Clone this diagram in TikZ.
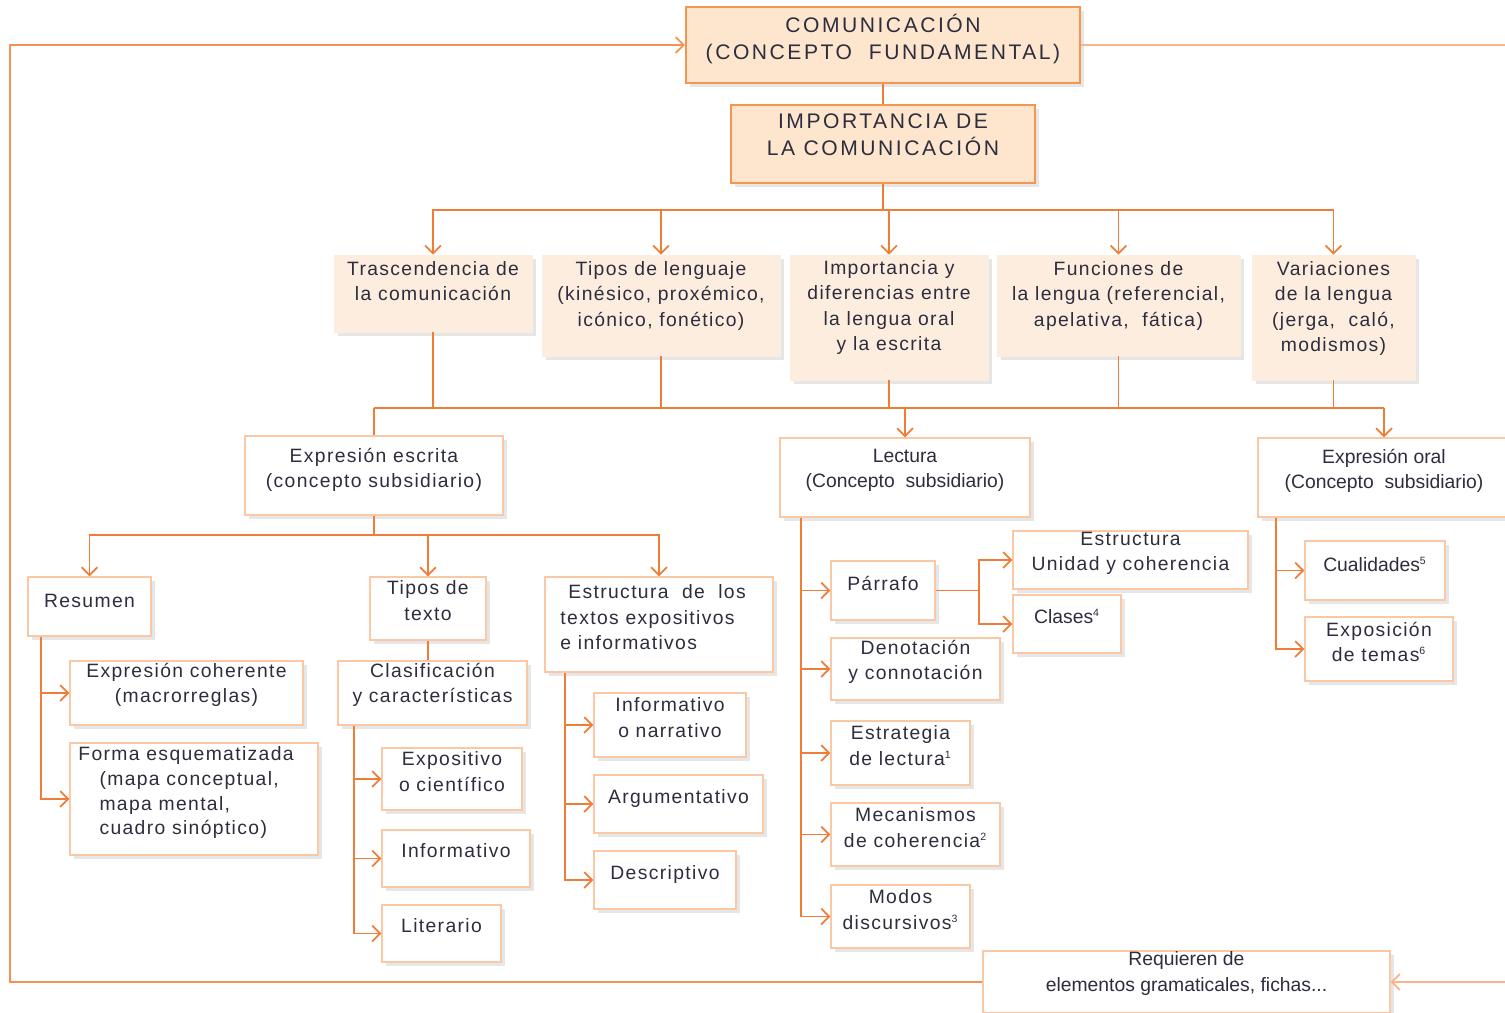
\documentclass[tikz,border=0pt]{standalone}
\usepackage{fontspec}
\setmainfont{Liberation Sans}[LetterSpace=7]
\newfontfamily\titlef{Liberation Sans}[LetterSpace=12]
\newfontfamily\plainf{Liberation Sans}
\usetikzlibrary{arrows.meta,shadows,fit}
\definecolor{linecol}{RGB}{240,125,55}
\definecolor{loopcol}{RGB}{245,145,85}
\definecolor{lightcol}{RGB}{249,180,140}
\definecolor{topfill}{RGB}{253,230,205}
\definecolor{topdraw}{RGB}{245,150,80}
\definecolor{midfill}{RGB}{253,237,222}
\definecolor{wdraw}{RGB}{250,200,165}
\definecolor{textcol}{RGB}{45,45,62}
\newcommand\supnum[1]{\textsuperscript{\fontsize{6}{6}\selectfont #1}}
\newcommand\bx[6]{\node[#1, fit={(#3,#4) (#5,#6)}, inner sep=0pt] (#2) {};}
\newcommand\tx[4][]{\node[txt, yshift={3.85pt-#3*0.567pt}, #1] (#2-t) at (#2.north) {#4};}
\tikzset{
  x=0.02cm, y=-0.02cm,
  ln/.style={draw=linecol, line width=1pt},
  arr/.style={ln, -{Straight Barb[length=4.5pt,width=9pt]}},
  shd/.style={drop shadow={shadow xshift=2.5pt, shadow yshift=-2.5pt, opacity=0.2, fill=black!50}},
  topbox/.style={fill=topfill, draw=topdraw, line width=1.3pt, shd},
  midbox/.style={fill=midfill, draw=midfill, shd},
  wbox/.style={fill=white, draw=wdraw, line width=0.8pt, shd},
  txt/.style={text=textcol, align=center, inner sep=0pt, anchor=north,
    font=\fontsize{11}{14.5}\selectfont, execute at begin node=\strut},
  ttl/.style={font=\titlef\fontsize{12}{15.5}\selectfont},
  pln/.style={font=\plainf\fontsize{11}{14.5}\selectfont},
}
\begin{document}
\begin{tikzpicture}
\useasboundingbox (0,0) rectangle (1505,1012);
\clip (0,0) rectangle (1505,1012);
% boxes
\bx{topbox}{comm}{686}{7}{1080}{83}
\tx[ttl]{comm}{15}{COMUNICACIÓN\\(CONCEPTO\ \ FUNDAMENTAL)}
\bx{topbox}{imp}{731}{105}{1035}{183}
\tx[ttl]{imp}{16}{IMPORTANCIA DE\\LA COMUNICACIÓN}

\bx{midbox}{tras}{334}{255}{532}{332}
\tx{tras}{13}{Trascendencia de\\la comunicación}
\bx{midbox}{tipo}{542}{255}{780}{356}
\tx{tipo}{13}{Tipos de lenguaje\\(kinésico, proxémico,\\icónico, fonético)}
\bx{midbox}{impo}{790}{255}{988}{380}
\tx{impo}{12}{Importancia y\\diferencias entre\\la lengua oral\\y la escrita}
\bx{midbox}{func}{997}{255}{1240}{356}
\tx{func}{13}{Funciones de\\la lengua (referencial,\\apelativa,\ \ fática)}
\bx{midbox}{vari}{1252}{255}{1415}{380}
\tx{vari}{13}{Variaciones\\de la lengua\\(jerga,\ \ caló,\\modismos)}

\bx{wbox}{escr}{245}{436}{503}{515}
\tx{escr}{19}{Expresión escrita\\(concepto subsidiario)}
\bx{wbox}{lect}{780}{438}{1030}{517}
\tx[pln]{lect}{18}{Lectura\\(Concepto\ \ subsidiario)}
\bx{wbox}{oral}{1258}{438}{1510}{517}
\tx[pln]{oral}{18}{Expresión oral\\(Concepto\ \ subsidiario)}

\bx{wbox}{resu}{28}{577}{151}{636}
\tx{resu}{20}{Resumen}
\bx{wbox}{tipt}{370}{577}{486}{640}
\tx{tipt}{11}{Tipos de\\texto}
\bx{wbox}{estt}{545}{577}{773}{672}
\node[txt, align=left, anchor=north west, xshift=9pt, yshift={3.85pt-15*0.567pt}] (estt-t) at (estt.north west)
  {\hspace*{4.5pt}Estructura\ \ de\ \ los\\textos expositivos\\e informativos};

\bx{wbox}{cohe}{70}{661}{303}{725}
\tx{cohe}{9}{Expresión coherente\\(macrorreglas)}
\bx{wbox}{form}{70}{743}{318}{855}
\node[txt, align=left, anchor=north west, xshift=5pt, yshift={3.85pt-11*0.567pt}, font=\fontsize{11}{14}\selectfont] (form-t) at (form.north west)
  {Forma esquematizada\\\hspace*{12pt}(mapa conceptual,\\\hspace*{12pt}mapa mental,\\\hspace*{12pt}cuadro sinóptico)};

\bx{wbox}{clas}{338}{661}{527}{725}
\tx{clas}{9}{Clasificación\\y características}
\bx{wbox}{expo}{382}{748}{522}{810}
\tx{expo}{11}{Expositivo\\o científico}
\bx{wbox}{info}{382}{830}{530}{887}
\tx{info}{17}{Informativo}
\bx{wbox}{lite}{382}{905}{501}{962}
\tx{lite}{17}{Literario}

\bx{wbox}{infn}{594}{693}{746}{757}
\tx{infn}{12}{Informativo\\o narrativo}
\bx{wbox}{argu}{594}{775}{763}{833}
\tx{argu}{18}{Argumentativo}
\bx{wbox}{desc}{594}{851}{736}{909}
\tx{desc}{18}{Descriptivo}

\bx{wbox}{parr}{831}{561}{935}{620}
\tx{parr}{19}{Párrafo}
\bx{wbox}{deno}{831}{638}{1000}{700}
\tx{deno}{9}{Denotación\\y connotación}
\bx{wbox}{estl}{831}{721}{970}{785}
\tx{estl}{12}{Estrategia\\de lectura\supnum{1}}
\bx{wbox}{meca}{831}{803}{1000}{866}
\tx{meca}{12}{Mecanismos\\de coherencia\supnum{2}}
\bx{wbox}{modo}{831}{885}{970}{948}
\tx{modo}{12}{Modos\\discursivos\supnum{3}}
\bx{wbox}{unid}{1013}{531}{1248}{589}
\tx{unid}{8}{Estructura\\Unidad y coherencia}
\bx{wbox}{clcs}{1013}{595}{1121}{653}
\tx[pln]{clcs}{18}{Clases\supnum{4}}

\bx{wbox}{cual}{1305}{541}{1445}{600}
\tx[pln]{cual}{20}{Cualidades\supnum{5}}
\bx{wbox}{expt}{1305}{617}{1453}{681}
\tx{expt}{12}{Exposición\\de temas\supnum{6}}

\bx{wbox}{req}{983}{951}{1390}{1013}
\tx[pln]{req}{8}{Requieren de\\elementos gramaticales, fichas...}

% connectors
\draw[ln] (comm) -- (imp);
\coordinate (b1) at (882,210);
\draw[ln] (imp.south) -- (imp.south |- b1);
\foreach \n in {tras,tipo,impo,func,vari} \draw[arr] (imp.south |- b1) -| (\n.north);

\coordinate (b2) at (0,408);
\foreach \n in {tras,tipo,impo,func,vari} \draw[ln] (\n.south) -- (\n.south |- b2);
\draw[ln] (escr.north |- b2) -- (oral.north |- b2);
\draw[ln] (escr.north |- b2) -- (escr.north);
\draw[arr] (lect.north |- b2) -- (lect.north);
\draw[arr] (oral.north |- b2) -- (oral.north);

\coordinate (b3) at (0,535);
\draw[ln] (escr.south) -- (escr.south |- b3);
\foreach \n in {resu,tipt,estt} \draw[arr] (escr.south |- b3) -| (\n.north);

\coordinate (rs) at ([xshift=0.28cm]resu.south west);
\foreach \n in {cohe,form} \draw[arr] (rs) |- (\n.west);

\draw[ln] (tipt.south) -- (tipt.south |- clas.north);
\coordinate (cs) at ([xshift=0.34cm]clas.south west);
\foreach \n in {expo,info,lite} \draw[arr] (cs) |- (\n.west);

\coordinate (es) at ([xshift=0.42cm]estt.south west);
\foreach \n in {infn,argu,desc} \draw[arr] (es) |- (\n.west);

\coordinate (ls) at ([xshift=0.44cm]lect.south west);
\foreach \n in {parr,deno,estl,meca,modo} \draw[arr] (ls) |- (\n.west);

\coordinate (pj) at ([xshift=0.86cm]parr.east);
\draw[ln] (parr.east) -- (pj);
\foreach \n in {unid,clcs} \draw[arr] (pj) |- (\n.west);

\coordinate (os) at ([xshift=0.38cm]oral.south west);
\foreach \n in {cual,expt} \draw[arr] (os) |- (\n.west);

% feedback loop
\coordinate (lb) at (10,982);
\draw[arr, draw=loopcol] (req.west) -- (req.west -| lb) |- (comm.west);
\coordinate (re) at (1505,0);
\draw[ln, draw=lightcol] (comm.east) -- (comm.east -| re);
\draw[arr, draw=lightcol] (req.east -| re) -- (req.east);
\end{tikzpicture}
\end{document}
